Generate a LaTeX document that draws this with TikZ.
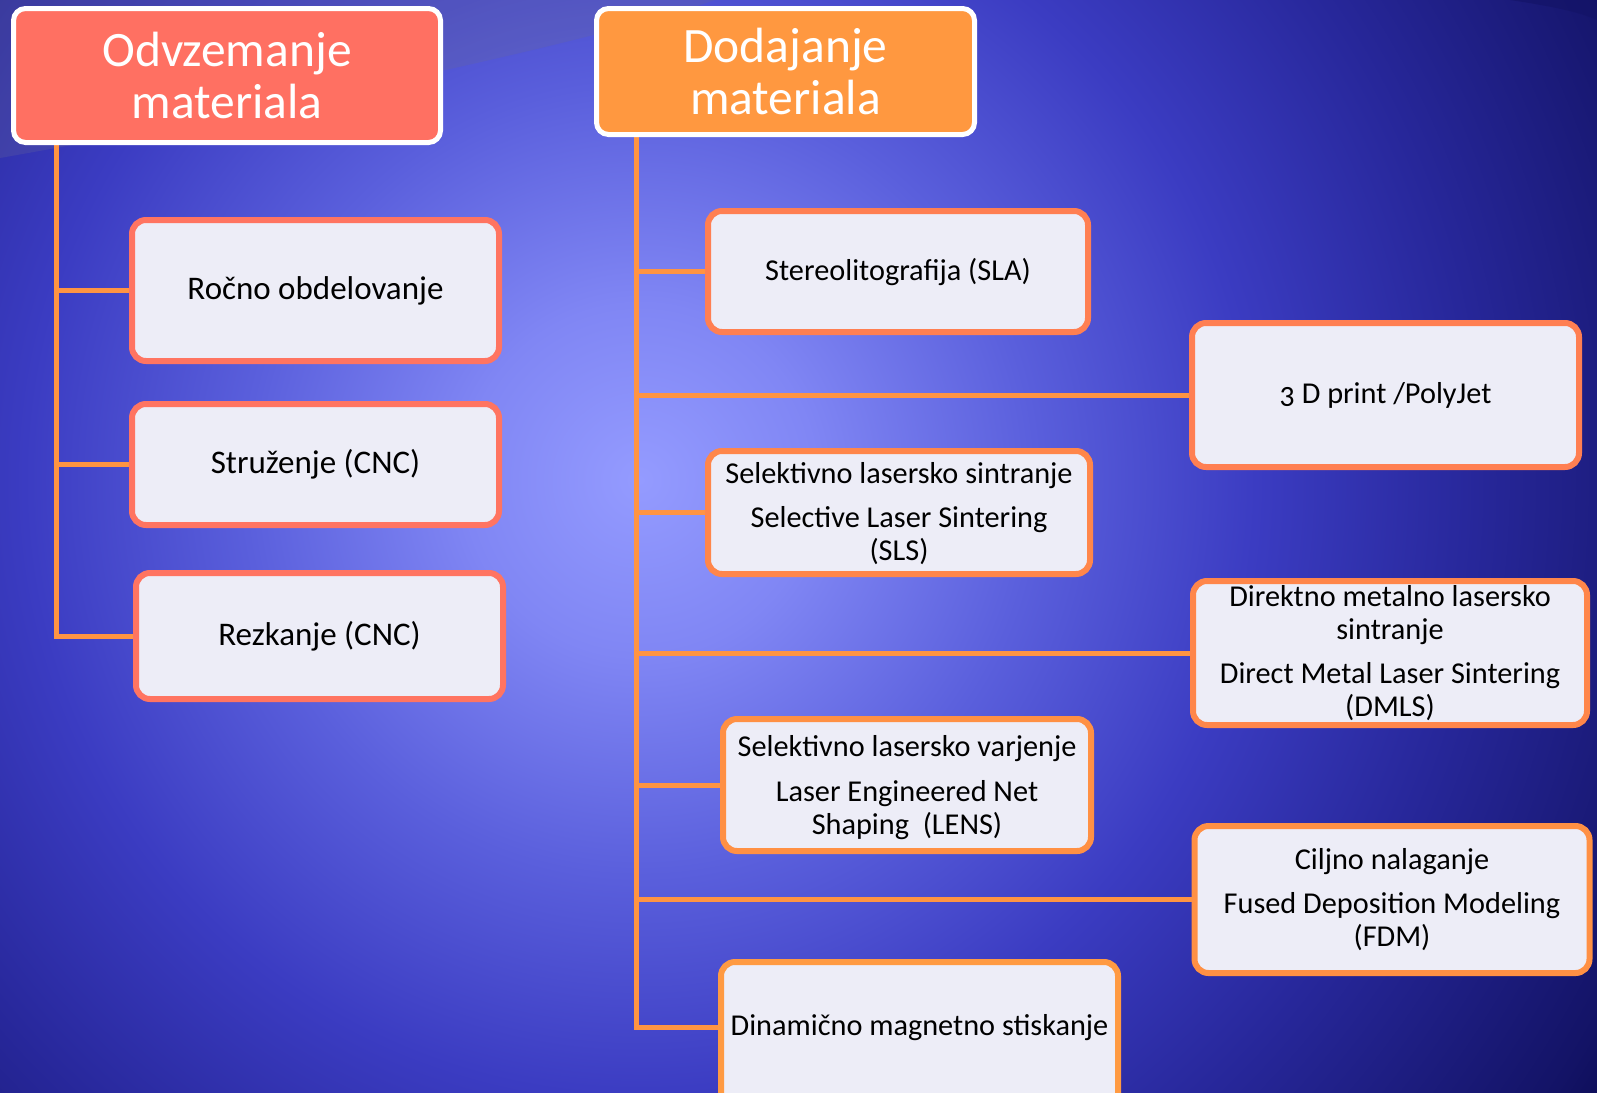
\documentclass[tikz,border=0pt]{standalone}
\usepackage{fontspec}
\setmainfont{Carlito}
\usetikzlibrary{calc}
\definecolor{bgA}{HTML}{949BFF}
\definecolor{bgB}{HTML}{8086F4}
\definecolor{bgC}{HTML}{5A5FDC}
\definecolor{bgD}{HTML}{3B3CC2}
\definecolor{bgE}{HTML}{27279A}
\definecolor{bgF}{HTML}{131366}
\definecolor{bgG}{HTML}{07074A}
\definecolor{hdrA}{HTML}{FF7062}
\definecolor{hdrB}{HTML}{FF9840}
\definecolor{boxfill}{HTML}{EDEDF7}
\definecolor{connc}{HTML}{FF9442}
\definecolor{bdA}{HTML}{FF7461}
\definecolor{bdB}{HTML}{FF7F52}
\definecolor{bdC}{HTML}{FF864A}
\definecolor{bdD}{HTML}{FF9044}
\definecolor{bdE}{HTML}{FF9A42}
\pgfdeclareradialshading{bgshade}{\pgfpoint{0bp}{0bp}}{color(0bp)=(bgA); color(3.14bp)=(bgB); color(7.07bp)=(bgC); color(11bp)=(bgD); color(14.93bp)=(bgE); color(19.64bp)=(bgF); color(21.4bp)=(bgG); color(25bp)=(bgG); color(50bp)=(bgG)}
\pgfdeclarelayer{bglayer}
\pgfsetlayers{bglayer,main}
\tikzset{
  hdr/.style={rounded corners=12pt, line width=5pt, draw=white, text=white,
    font=\fontsize{49.5}{52}\selectfont, align=center, inner sep=0pt},
  bx/.style={rounded corners=14pt, line width=6pt, fill=boxfill, text=black,
    font=\fontsize{30.3}{33}\selectfont, align=center, inner sep=0pt},
  lbx/.style={bx, draw=bdA, font=\fontsize{33}{36}\selectfont, text height=24pt, text depth=6pt},
  one/.style={text height=22pt, text depth=5pt},
  conn/.style={line width=5pt, draw=connc},
}
\begin{document}
\begin{tikzpicture}[x=1pt,y=-1pt]
\useasboundingbox (0,0) rectangle (1597,1092);
% headers
\node[hdr, fill=hdrA, minimum width=427pt, minimum height=134pt] (h1) at (227,75.5) {Odvzemanje\\materiala};
\node[hdr, fill=hdrB, minimum width=378pt, minimum height=126pt] (h2) at (785.5,71.5) {Dodajanje\\materiala};
% left column
\node[lbx, minimum width=367pt, minimum height=141pt] (r1) at (315.5,290.5) {Ročno obdelovanje};
\node[lbx, minimum width=367pt, minimum height=121pt] (r2) at (315.5,464.5) {Struženje (CNC)};
\node[lbx, minimum width=367pt, minimum height=126pt] (r3) at (319.5,636) {Rezkanje (CNC)};
% middle column
\node[bx, one, draw=bdB, minimum width=380pt, minimum height=121pt] (m1) at (898,271.5) {Stereolitografija (SLA)};
\node[bx, draw=bdC, minimum width=382pt, minimum height=123pt] (m2) at (899,512.5) {\rule{0pt}{24pt}Selektivno lasersko sintranje\\[11pt]Selective Laser Sintering\\(SLS)};
\node[bx, draw=bdD, minimum width=368pt, minimum height=132pt] (m3) at (907,785) {\rule{0pt}{27pt}Selektivno lasersko varjenje\\[12pt]Laser Engineered Net\\Shaping~~(LENS)};
\node[bx, draw=bdE, text height=20pt, text depth=18.4pt, minimum width=397pt, minimum height=146pt] (m4) at (919.5,1035) {Dinamično magnetno stiskanje};
% right column
\node[bx, one, draw=bdB, minimum width=387pt, minimum height=144pt] (p1) at (1385.5,395) {{\addfontfeature{Numbers=OldStyle}3} D print /PolyJet};
\node[bx, draw=bdC, minimum width=394pt, minimum height=144pt] (p2) at (1390,653) {Direktno metalno lasersko\\sintranje\\[11pt]Direct Metal Laser Sintering\\(DMLS)};
\node[bx, draw=bdD, minimum width=395pt, minimum height=147pt] (p3) at (1392,899.5) {Ciljno nalaganje\\[11pt]Fused Deposition Modeling\\(FDM)};
\coordinate (tl) at (56,0);
\coordinate (tr) at (636,0);
\coordinate (m4in) at ([yshift=8pt]m4.west);
\begin{pgfonlayer}{bglayer}
  \begin{scope}
    \clip (0,0) rectangle (1597,1092);
    \shade[shading=bgshade] (640,480) circle[radius=1400pt];
    \fill[gray!80!blue, opacity=0.28] (0,0) -- (715,0) .. controls (600,40) and (300,105) .. (0,158) -- cycle;
    \fill[bgF, opacity=0.6] (1510,0) .. controls (1550,6) and (1580,12) .. (1597,20) -- (1597,0) -- cycle;
  \end{scope}
  \draw[conn] (h1.south -| tl) -- (tl |- r3.west) -- (r3.west);
  \draw[conn] (tl |- r1.west) -- (r1.west);
  \draw[conn] (tl |- r2.west) -- (r2.west);
  \draw[conn] (h2.south -| tr) -- (tr |- m4in) -- (m4in);
  \draw[conn] (tr |- m1.west) -- (m1.west);
  \draw[conn] (tr |- p1.west) -- (p1.west);
  \draw[conn] (tr |- m2.west) -- (m2.west);
  \draw[conn] (tr |- p2.west) -- (p2.west);
  \draw[conn] (tr |- m3.west) -- (m3.west);
  \draw[conn] (tr |- p3.west) -- (p3.west);
\end{pgfonlayer}
\end{tikzpicture}
\end{document}
